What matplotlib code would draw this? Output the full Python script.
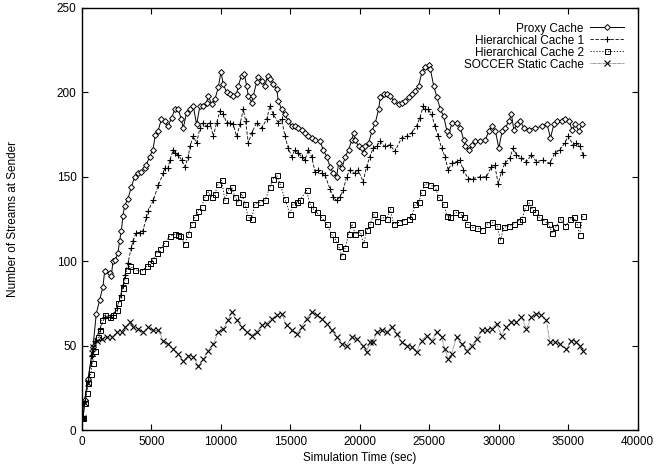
import matplotlib
matplotlib.use("Agg")
import matplotlib.pyplot as plt

plt.rcParams['font.family'] = ['Liberation Sans', 'DejaVu Sans']

proxy_x = [70,190,430,790,1030,1270,1510,1630,1990,2110,2230,2400,2590,2710,2830,2950,3070,3310,3550,3790,4030,4270,4510,4630,4870,5110,5280,5470,5710,5950,6190,6450,6690,6930,7150,7290,7530,7770,8010,8250,8490,8730,8970,9090,9330,9570,9810,10000,10170,10410,10650,10890,11130,11250,11490,11680,11850,11970,12210,12330,12570,12690,12930,13170,13360,13530,13770,14010,14130,14370,14610,14850,15090,15330,15570,15810,16050,16290,16530,16770,17130,17370,17610,17850,18090,18330,18470,18710,18950,19190,19430,19550,19670,19910,20150,20270,20390,20630,20870,21110,21350,21470,21710,21950,22190,22430,22790,23030,23270,23510,23750,23990,24230,24470,24710,24950,25070,25310,25550,25790,26030,26270,26390,26630,26990,27230,27470,27600,27840,28080,28320,28680,29040,29280,29520,29760,30000,30240,30480,30720,30910,31080,31320,31560,31800,32160,32640,33120,33480,33720,33960,34200,34560,34800,35040,35280,35520,35760,36000]
proxy_y = [7,18,30,49,69,77,85,94,93,91,100,101,105,112,118,127,133,137,144,150,152,153,155,157,162,166,175,177,184,183,180,185,190,190,184,179,188,190,192,181,192,192,194,198,193,196,203,212,205,200,199,198,199,204,210,211,204,198,194,198,206,209,207,204,210,208,205,202,195,190,187,183,180,180,179,178,176,174,173,172,171,166,162,156,152,150,158,155,162,166,172,176,172,168,167,164,168,170,177,182,190,197,199,199,198,195,193,194,195,197,199,201,204,212,215,216,214,204,197,190,186,177,175,182,182,179,172,168,166,169,171,171,172,177,180,177,167,177,179,183,187,178,181,183,179,178,179,180,181,173,181,183,183,184,183,178,181,177,181]

h1_x = [70,190,430,700,935,1300,1650,2000,2250,2500,2780,2970,3100,3310,3550,3670,3910,4150,4390,4630,4770,5130,5490,5850,5950,6190,6330,6570,6690,6930,7170,7410,7650,7770,8010,8250,8490,8730,8970,9210,9450,9690,9930,10170,10410,10650,10890,11130,11370,11610,11780,11970,12210,12570,12930,13290,13530,13770,14130,14370,14610,14850,15090,15330,15570,15810,16050,16290,16530,16770,17010,17250,17490,17840,18080,18320,18560,18800,19040,19280,19640,19880,20240,20480,20720,20960,21200,21440,21800,22160,22520,23000,23360,23720,24080,24320,24560,24680,24920,25160,25400,25640,25880,26120,26360,26600,26960,27200,27440,27800,28150,28630,29110,29470,29710,29950,30200,30430,30790,31030,31270,31630,31990,32350,32710,33190,33670,34030,34390,34750,34990,35350,35590,35830,36070]
h1_y = [7,17,29,44,53,60,67,67,68,72,80,86,92,99,108,112,117,117,118,126,130,136,145,152,155,155,160,166,164,163,160,156,162,168,174,170,179,182,180,182,174,182,189,187,182,182,181,174,181,190,183,170,176,182,179,184,192,187,182,184,174,167,162,166,164,162,160,166,162,153,154,152,151,143,138,136,138,142,150,154,152,154,147,156,162,167,168,171,168,169,165,173,174,176,180,185,192,190,190,187,180,174,167,162,154,158,159,160,154,149,149,150,150,156,157,146,153,158,161,167,163,161,159,163,159,160,158,164,166,170,174,169,170,168,163]

h2_x = [70,216,335,455,623,767,935,1175,1295,1415,1655,2014,2254,2494,2614,2781,2973,3093,3213,3453,3813,4292,4652,4892,5131,5371,5611,5970,6330,6690,6930,7050,7410,7650,7890,8130,8370,8610,8850,9090,9330,9570,9810,10050,10290,10530,10770,11010,11250,11490,11730,11970,12210,12450,12800,13170,13530,13770,14010,14250,14600,14960,15200,15440,15680,16160,16400,16640,16880,17240,17600,17960,18230,18470,18710,18950,19190,19430,19670,20030,20270,20510,20750,20990,21230,21590,21950,22190,22430,22790,23150,23510,23750,23990,24230,24470,24710,25070,25430,25670,26030,26270,26510,26870,27230,27480,27720,28080,28440,28800,29160,29520,29880,30120,30360,30720,31080,31440,31680,31920,32160,32400,32640,32880,33240,33600,33840,34080,34440,34800,35160,35400,35640,35810,36050]
h2_y = [7,16,22,28,33,40,47,55,59,65,68,67,68,71,75,79,84,89,95,97,95,94,97,99,101,105,107,111,115,116,115.5,115,110,116,122,126,130,132,138,141,138,140,146,148,136,142,144,138,135,140,134,126,125,134,135,136,144,149,151,146,137,128,134,135,136,142,134,131,129,126,122,116,113,109,103,108,116,122,116,117.5,110,118.5,122,128,124,126,125,131,122,123,124,125,127,134,135,141,146,145,144,138,134,127,126,129,128,126,122,120,119.5,118.5,122,123,121,112.5,120,121,122,124,125,132,135,131,129,126,124,122,116.5,120,125,121,125,126,122,115.5,127]

soccer_x = [70,216,455,695,815,1055,1415,1775,2134,2494,2854,3093,3453,3693,4052,4412,4772,5131,5491,5851,6211,6570,6930,7290,7650,8009,8369,8729,9088,9448,9808,10167,10527,10767,11126,11486,11846,12206,12565,12925,13285,13645,14005,14364,14724,15084,15443,15803,16163,16523,16882,17242,17602,17962,18321,18681,19040,19400,19760,20240,20480,20720,20960,21200,21560,21920,22280,22640,23000,23360,23720,24080,24440,24800,25160,25520,25880,26120,26360,26600,26960,27320,27680,28040,28400,28760,29120,29480,29840,30200,30550,30910,31270,31630,31990,32350,32710,33070,33430,33670,34030,34390,34870,35230,35590,35830,36070]
soccer_y = [7,16,28,45.5,49,53,54,55,55,58,58,61,64,61,60,58,61,59,59,53,51,48,45,41,44,43.5,38,42,47,51,58,60,65,70,65,61,58,56,58,62,63,66,68,69,62,59,57,61,66,70,68,66,63,59,55,51,50,55,54,50,46,52,52,58,59,58,61,57,52,50,49,46,53,56,53,58,55,48,42,45,55,51,47,50,54,59,59,60,63,56,61,64,64,67,60,67,69,68,65,52,52,51,48,53,52,50,47]

labels = ["Proxy Cache", "Hierarchical Cache 1", "Hierarchical Cache 2", "SOCCER Static Cache"]
x_ticks = [0, 5000, 10000, 15000, 20000, 25000, 30000, 35000, 40000]
y_ticks = [0, 50, 100, 150, 200, 250]

fig = plt.figure(figsize=(6.72, 4.70), dpi=100)
ax = fig.add_axes([0.122, 0.085, 0.827, 0.898])

ax.plot(proxy_x, proxy_y, color='black', linestyle='-', linewidth=0.7,
        marker='D', markersize=3.0, markerfacecolor='white', markeredgewidth=0.7,
        label=labels[0])
ax.plot(h1_x, h1_y, color='black', linestyle=(0, (4, 2)), linewidth=0.6,
        marker='+', markersize=5, markeredgewidth=0.8, label=labels[1])
ax.plot(h2_x, h2_y, color='black', linestyle=(0, (1.5, 2)), linewidth=0.6,
        marker='s', markersize=3.6, markerfacecolor='none', markeredgewidth=0.7,
        label=labels[2])
ax.plot(soccer_x, soccer_y, color='black', linestyle=(0, (0.8, 1)), linewidth=0.5,
        marker='x', markersize=4, markeredgewidth=0.8, label=labels[3])

ax.set_xlim(0, 40000)
ax.set_ylim(0, 250)
ax.set_xticks(x_ticks)
ax.set_yticks(y_ticks)
ax.tick_params(direction='in', top=True, right=True, labelsize=8.5, length=4, width=0.8, pad=4)
for s in ax.spines.values():
    s.set_linewidth(1.0)

ax.set_xlabel("Simulation Time (sec)", fontsize=8.5)
ax.set_ylabel("Number of Streams at Sender", fontsize=8.5)
ax.yaxis.set_label_coords(-0.124, 0.5)
ax.xaxis.set_label_coords(0.5, -0.066)
ax.xaxis.label.set_va('center')
ax.yaxis.label.set_va('center')

leg = ax.legend(loc='upper right', frameon=False, markerfirst=False, fontsize=8.5,
                handlelength=2.9, handletextpad=0.5, labelspacing=0.0,
                borderaxespad=0.3, bbox_to_anchor=(0.99, 0.985))
for t in leg.get_texts():
    t.set_ha('right')

fig.savefig("out.png", dpi=100)
